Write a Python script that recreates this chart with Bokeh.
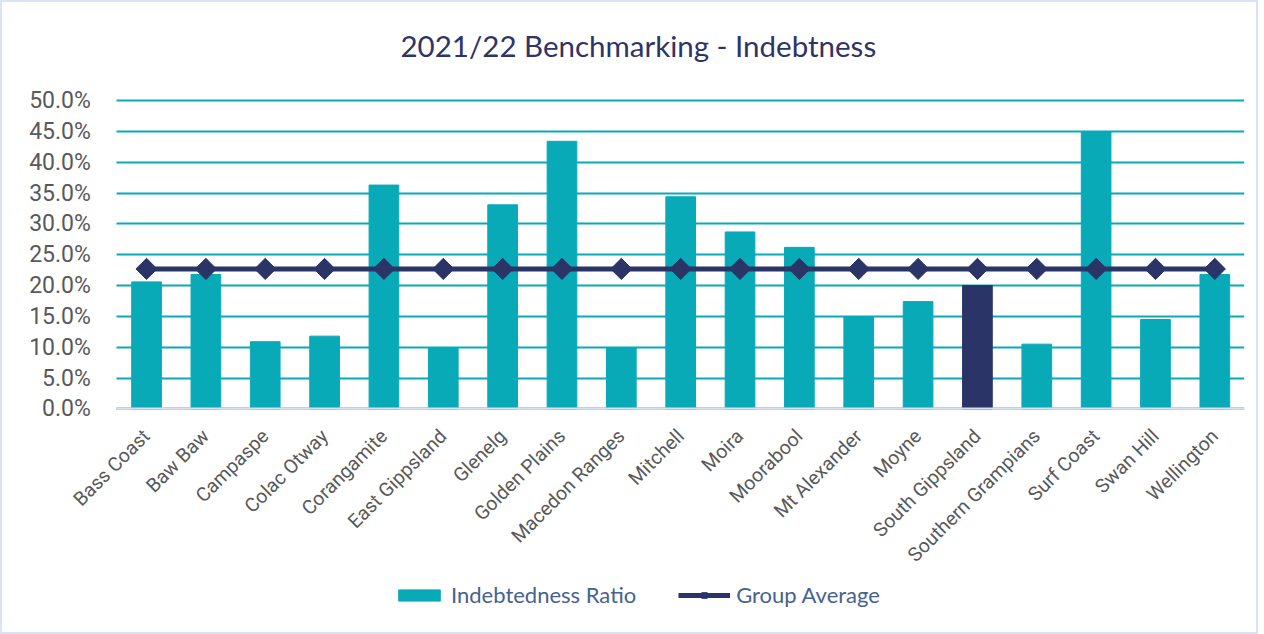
from bokeh.plotting import figure
from bokeh.models import (ColumnDataSource, FixedTicker, NumeralTickFormatter,
                          Legend, LegendItem, Title, Range1d)
from bokeh.embed import file_html
from bokeh.resources import INLINE
from math import pi

categories = ["Bass Coast", "Baw Baw", "Campaspe", "Colac Otway", "Corangamite",
              "East Gippsland", "Glenelg", "Golden Plains", "Macedon Ranges", "Mitchell",
              "Moira", "Moorabool", "Mt Alexander", "Moyne", "South Gippsland",
              "Southern Grampians", "Surf Coast", "Swan Hill", "Wellington"]
indebtedness_pct = [20.6, 21.8, 10.9, 11.8, 36.3, 9.9, 33.1, 43.4, 9.9, 34.4,
                    28.7, 26.2, 14.9, 17.4, 20.0, 10.5, 44.9, 14.5, 21.8]
group_average_pct = [22.7] * len(categories)
highlight = "South Gippsland"
y_ticks_pct = [0, 5, 10, 15, 20, 25, 30, 35, 40, 45, 50]

TEAL = "#08aab8"
NAVY = "#2b3467"

n = len(categories)
positions = list(range(n))
colors = [NAVY if c == highlight else TEAL for c in categories]
src = ColumnDataSource(dict(
    x=positions,
    cat=categories,
    val=[v / 100 for v in indebtedness_pct],
    avg=[v / 100 for v in group_average_pct],
    color=colors,
))

# Layout (screen pixels): plot area of the bars and the frame that holds it all,
# so that the rotated labels and the legend are not clipped.
FRAME_LEFT, AREA_LEFT, AREA_RIGHT = 6, 116, 1240
FRAME_TOP, AREA_TOP, ZERO_PX, FRAME_BOTTOM = 85, 100, 406, 620
px_per_cat = (AREA_RIGHT - AREA_LEFT) / n
x_lo = -0.5 - (AREA_LEFT - FRAME_LEFT) / px_per_cat
x_hi = n - 0.5
y_top = 0.5
per_px = y_top / (ZERO_PX - AREA_TOP)
y_hi = y_top + (AREA_TOP - FRAME_TOP) * per_px
y_lo = -(FRAME_BOTTOM - ZERO_PX) * per_px

p = figure(x_range=Range1d(x_lo, x_hi), y_range=Range1d(y_lo, y_hi),
           width=1258, height=634, output_backend="svg", toolbar_location=None,
           min_border_left=FRAME_LEFT - 2, min_border_right=1256 - AREA_RIGHT,
           min_border_top=FRAME_TOP - 2, min_border_bottom=632 - FRAME_BOTTOM)
p.styles = {"border": "2px solid #dae3f3", "box-sizing": "border-box"}
p.outline_line_color = None
p.background_fill_color = "white"
p.border_fill_color = "white"

title = Title(text="2021/22 Benchmarking - Indebtness", align="left", offset=394,
              text_font="Lato", text_font_size="29.5px", text_font_style="normal",
              text_color="#2e3466", standoff=45)
p.add_layout(title, "above")

bars = p.vbar(x="x", top="val", width=0.5, source=src, fill_color="color",
              line_color="color")
line = p.line(x="x", y="avg", source=src, line_color=NAVY, line_width=5)
marks = p.scatter(x="x", y="avg", source=src, marker="square", angle=pi / 4, size=15,
                  fill_color=NAVY, line_color=NAVY)

yticker = FixedTicker(ticks=[t / 100 for t in y_ticks_pct])
p.yaxis.ticker = yticker
p.ygrid.ticker = yticker
p.yaxis.fixed_location = -0.5
p.yaxis.bounds = (0, 0.5)
p.yaxis.formatter = NumeralTickFormatter(format="0.0%")
p.yaxis.axis_line_color = None
p.yaxis.major_tick_line_color = None
p.yaxis.minor_tick_line_color = None
p.yaxis.major_label_text_font = "Roboto"
p.yaxis.major_label_text_font_size = "23px"
p.yaxis.major_label_text_color = "#595959"
p.yaxis.major_label_standoff = 20

p.xaxis.ticker = FixedTicker(ticks=positions)
p.xaxis.major_label_overrides = {i: c for i, c in zip(positions, categories)}
p.xaxis.fixed_location = 0
p.xaxis.bounds = (-0.5, n - 0.5)
p.xaxis.axis_line_color = "#d6e1f2"
p.xaxis.axis_line_width = 2
p.xaxis.major_tick_line_color = None
p.xaxis.minor_tick_line_color = None
p.xaxis.major_label_orientation = pi / 4
p.xaxis.major_label_text_font = "Roboto"
p.xaxis.major_label_text_font_size = "19.5px"
p.xaxis.major_label_text_color = "#595959"
p.xaxis.major_label_standoff = 18

p.xgrid.grid_line_color = None
p.ygrid.grid_line_color = TEAL
p.ygrid.grid_line_width = 2
p.ygrid.cross_bounds = (-0.5, n - 0.5)

legend = Legend(items=[LegendItem(label="Indebtedness Ratio", renderers=[bars], index=0),
                       LegendItem(label="Group Average", renderers=[line, marks])],
                orientation="horizontal", location=(387, 16),
                label_text_font="Lato", label_text_font_size="22px",
                label_text_color="#466290", glyph_width=52, glyph_height=14,
                label_height=20, label_standoff=6, spacing=42, padding=0, margin=0,
                border_line_color=None, background_fill_alpha=0)
p.add_layout(legend, "center")

open("out.html", "w").write(file_html(p, INLINE))
